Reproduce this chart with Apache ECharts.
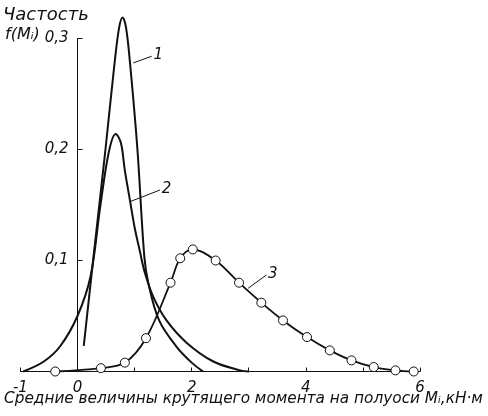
<!DOCTYPE html>
<html>
<head>
<meta charset="utf-8">
<style>
  html, body { margin: 0; padding: 0; background: #fff; }
  #chart { width: 488px; height: 416px; }
</style>
<script src="https://cdn.jsdelivr.net/npm/echarts@6/dist/echarts.min.js"></script>
</head>
<body>
<div id="chart"></div>
<script>
// Frequency f(M_i) against mean half-shaft torque M_i (kN·m), three distributions.
const curve1 = [[0.11,0.023],[0.28,0.103],[0.49,0.2],[0.65,0.278],[0.73,0.31],[0.79,0.319],[0.85,0.31],[0.92,0.278],[1.05,0.2],[1.17,0.104],[1.24,0.08],[1.43,0.046],[1.74,0.022],[2.0,0.008],[2.2,0]];
const curve2 = [[-0.95,0],[-0.59,0.009],[-0.3,0.023],[0.0,0.05],[0.23,0.086],[0.4,0.149],[0.55,0.198],[0.67,0.214],[0.76,0.206],[0.83,0.181],[0.92,0.154],[1.0,0.13],[1.09,0.109],[1.18,0.089],[1.33,0.067],[1.56,0.046],[1.91,0.026],[2.38,0.009],[2.85,0.001],[3.0,0]];
const curve3 = [[-0.39,0],[0.41,0.003],[0.83,0.008],[1.2,0.03],[1.63,0.08],[1.8,0.102],[2.02,0.11],[2.42,0.1],[2.83,0.08],[3.22,0.062],[3.6,0.046],[4.02,0.031],[4.42,0.019],[4.8,0.01],[5.19,0.004],[5.57,0.001],[5.89,0]];

// Curve numbers with their leader lines: [start, end] in data units
const curveNames = ['1', '2', '3'];
const leader1 = [[0.977, 0.278], [1.30, 0.284]];
const leader2 = [[0.92, 0.153], [1.445, 0.1635]];
const leader3 = [[2.99, 0.075], [3.31, 0.087]];

const xTickLabels = ['-1', '0', '2', '4', '6'];
const yTickLabels = ['0,1', '0,2', '0,3'];

const xTitle = 'Средние величины крутящего момента на полуоси Mᵢ,кН·м';
const yTitle = 'Частость';
const yTitle2 = 'f(Mᵢ)';

const FONT = '"DejaVu Sans", sans-serif';
const INK = '#111';

// plot area: x from -1 to 6, y from 0 to 0.3
const GRID = { left: 20.4, right: 68, top: 38.5, bottom: 44.5 };
const X_MIN = -1, X_MAX = 6;
const plotW = 488 - GRID.left - GRID.right;
// shift the y axis from the left edge onto x = 0
const yAxisShift = -(0 - X_MIN) * plotW / (X_MAX - X_MIN);

const chart = echarts.init(document.getElementById('chart'), null, { renderer: 'canvas' });

function leaderLine(pts, name) {
  return {
    silent: true,
    symbol: ['none', 'none'],
    lineStyle: { color: INK, width: 1, type: 'solid' },
    label: {
      show: true, position: 'end', distance: 2, formatter: name,
      color: INK, fontFamily: FONT, fontStyle: 'italic', fontSize: 15
    },
    emphasis: { disabled: true },
    data: [[{ coord: pts[0] }, { coord: pts[1] }]]
  };
}

chart.setOption({
  animation: false,
  backgroundColor: '#fff',
  grid: Object.assign({ containLabel: false, outerBoundsMode: 'none' }, GRID),
  xAxis: {
    type: 'value', min: X_MIN, max: X_MAX, interval: 1,
    splitLine: { show: false },
    axisLine: { show: true, onZero: false, lineStyle: { color: INK, width: 1 } },
    axisTick: { show: true, inside: true, length: 4, lineStyle: { color: INK } },
    axisLabel: {
      margin: 9, color: INK, fontFamily: FONT, fontStyle: 'italic', fontSize: 15,
      formatter: v => {
        const s = String(Math.round(v));
        return xTickLabels.indexOf(s) >= 0 ? s : '';
      }
    }
  },
  yAxis: {
    type: 'value', min: 0, max: 0.3, interval: 0.1,
    offset: yAxisShift,
    splitLine: { show: false },
    axisLine: { show: true, onZero: false, lineStyle: { color: INK, width: 1 } },
    axisTick: { show: true, inside: true, length: 5, lineStyle: { color: INK } },
    axisLabel: {
      margin: 9, color: INK, fontFamily: FONT, fontStyle: 'italic', fontSize: 15,
      formatter: v => {
        const s = v.toFixed(1).replace('.', ',');
        return yTickLabels.indexOf(s) >= 0 ? s : '';
      }
    }
  },
  graphic: [
    { type: 'text', left: 3, top: 6, style: { text: yTitle, fill: INK, font: 'italic 18px ' + FONT } },
    { type: 'text', left: 5, top: 27, style: { text: yTitle2, fill: INK, font: 'italic 16px ' + FONT } },
    { type: 'text', left: 4, top: 392, style: { text: xTitle, fill: INK, font: 'italic 15.3px ' + FONT } }
  ],
  series: [
    {
      name: curveNames[0], type: 'line', data: curve1, clip: false,
      smooth: 0.35, showSymbol: false, symbol: 'none',
      lineStyle: { color: INK, width: 2 },
      markLine: leaderLine(leader1, curveNames[0])
    },
    {
      name: curveNames[1], type: 'line', data: curve2, clip: false,
      smooth: 0.35, showSymbol: false, symbol: 'none',
      lineStyle: { color: INK, width: 2 },
      markLine: leaderLine(leader2, curveNames[1])
    },
    {
      name: curveNames[2], type: 'line', data: curve3, clip: false,
      smooth: 0.35,
      symbol: 'circle', symbolSize: 9, showSymbol: true,
      itemStyle: { color: '#fff', borderColor: INK, borderWidth: 1 },
      lineStyle: { color: INK, width: 1.8 },
      markLine: leaderLine(leader3, curveNames[2])
    }
  ]
});
</script>
</body>
</html>
